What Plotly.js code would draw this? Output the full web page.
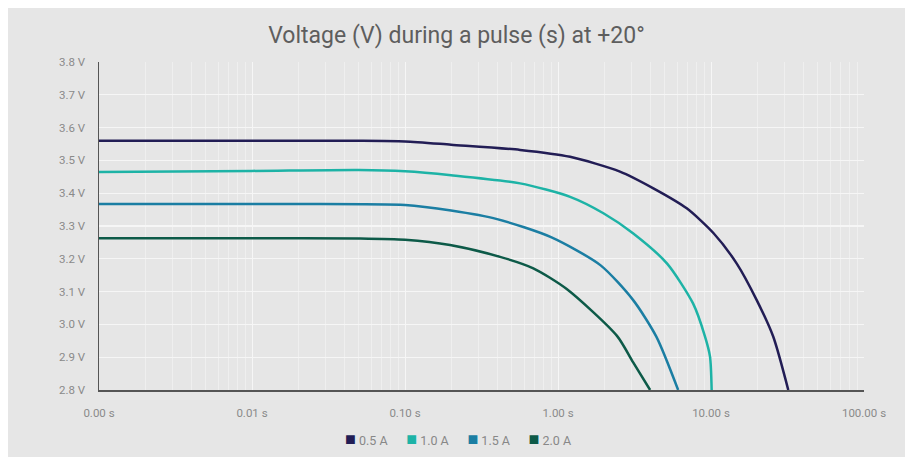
<!DOCTYPE html>
<html>
<head>
<meta charset="utf-8">
<script src="https://cdn.plot.ly/plotly-3.0.1.min.js"></script>
<style>
html,body{margin:0;padding:0;background:#ffffff;}
#chart{position:absolute;left:8px;top:8px;width:897px;height:449px;}
</style>
</head>
<body>
<div id="chart"></div>
<script>
// Series data (time in s, voltage in V)
const seriesNames = ['0.5 A', '1.0 A', '1.5 A', '2.0 A'];
const colors = ['#221d55', '#1db3a6', '#1b7ea3', '#0d5a48'];

const t05 = [0.001, 0.01, 0.05, 0.1, 0.2, 0.565, 1.2, 2.54, 4.2, 6.94, 10.4, 14.7, 19.9, 25.5, 32];
const v05 = [3.56, 3.56, 3.56, 3.558, 3.548, 3.532, 3.511, 3.466, 3.415, 3.354, 3.278, 3.186, 3.074, 2.963, 2.8];

const t10 = [0.001, 0.01, 0.05, 0.1, 0.2, 0.565, 1.2, 1.98, 3.09, 5.15, 7.63, 9.14, 9.85, 10.1];
const v10 = [3.465, 3.468, 3.471, 3.467, 3.455, 3.43, 3.389, 3.339, 3.278, 3.186, 3.064, 2.963, 2.902, 2.8];

const t15 = [0.001, 0.01, 0.02, 0.1, 0.2, 0.4, 0.9, 1.9, 3.1, 4.4, 6.1];
const v15 = [3.367, 3.367, 3.367, 3.364, 3.347, 3.321, 3.266, 3.18, 3.074, 2.962, 2.8];

const t20 = [0.001, 0.01, 0.05, 0.1, 0.197, 0.418, 0.69, 1.14, 2.43, 3.1, 4.0];
const v20 = [3.263, 3.263, 3.262, 3.258, 3.242, 3.206, 3.171, 3.108, 2.965, 2.884, 2.8];

const xTickVals = [0.001, 0.01, 0.1, 1, 10, 100];
const xTickText = ['0.00 s', '0.01 s', '0.10 s', '1.00 s', '10.00 s', '100.00 s'];
const yTickVals = [2.8, 2.9, 3.0, 3.1, 3.2, 3.3, 3.4, 3.5, 3.6, 3.7, 3.8];
const yTickText = ['2.8 V', '2.9 V', '3.0 V', '3.1 V', '3.2 V', '3.3 V', '3.4 V', '3.5 V', '3.6 V', '3.7 V', '3.8 V'];

const xs = [t05, t10, t15, t20];
const ys = [v05, v10, v15, v20];

const FONT = 'Roboto, "Noto Sans", sans-serif';

const traces = [];
for (let i = 0; i < seriesNames.length; i++) {
  traces.push({
    x: xs[i], y: ys[i], type: 'scatter', mode: 'lines',
    line: {color: colors[i], width: 2.5, shape: 'spline', smoothing: 0.7},
    name: seriesNames[i], showlegend: false, hoverinfo: 'skip'
  });
}

const legendText = seriesNames.map((n, i) =>
  `<span style="color:${colors[i]};font-size:18px">■</span>&nbsp;${n}`).join('&nbsp;&nbsp;&nbsp;&nbsp;&nbsp;&nbsp;');

const layout = {
  width: 897, height: 449,
  paper_bgcolor: '#e6e6e6', plot_bgcolor: '#e6e6e6',
  margin: {l: 91, r: 41, t: 54, b: 67},
  font: {family: FONT, color: '#888888', size: 11},
  title: {text: 'Voltage (V) during a pulse (s) at +20°', x: 0.5, xanchor: 'center', y: 0.94, yanchor: 'middle',
          font: {family: FONT, size: 23, color: '#5e5e5e'}},
  xaxis: {
    type: 'log', range: [-3, 2],
    tickvals: xTickVals, ticktext: xTickText,
    showgrid: true, gridcolor: 'rgba(255,255,255,0.45)', gridwidth: 1,
    minor: {showgrid: true, gridcolor: 'rgba(255,255,255,0.35)', gridwidth: 1, dtick: 'D1'},
    showline: true, linecolor: '#555555', linewidth: 1.5,
    zeroline: false, ticks: '', ticklabelstandoff: 12,
    tickfont: {family: FONT, size: 11.5, color: '#8a8a8a'}
  },
  yaxis: {
    range: [2.8, 3.8], tickvals: yTickVals, ticktext: yTickText,
    showgrid: true, gridcolor: '#f6f6f6', gridwidth: 1.2,
    showline: true, linecolor: '#555555', linewidth: 1.5,
    zeroline: false, ticks: '', ticklabelstandoff: 10,
    tickfont: {family: FONT, size: 11.5, color: '#8a8a8a'}
  },
  annotations: [{
    text: legendText, xref: 'paper', yref: 'paper', x: 0.469, y: -0.149,
    xanchor: 'center', yanchor: 'middle', showarrow: false,
    font: {family: FONT, size: 12.5, color: '#888888'}
  }],
  showlegend: false
};

Plotly.newPlot('chart', traces, layout, {displayModeBar: false, staticPlot: true});
</script>
</body>
</html>
